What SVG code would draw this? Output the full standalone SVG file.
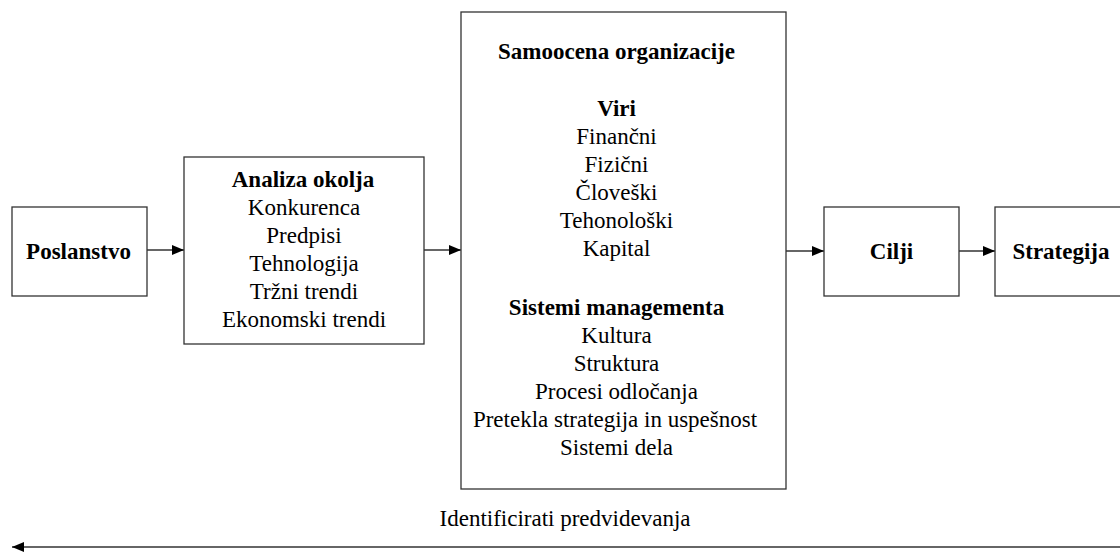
<svg xmlns="http://www.w3.org/2000/svg" width="1120" height="553" viewBox="0 0 1120 553">
<defs>
<style>
.box{fill:#fff;stroke:#333;stroke-width:1.3}
text{font-family:"Liberation Serif","Times New Roman",serif;font-size:23px;fill:#000;text-anchor:middle}
.b{font-weight:bold}
.c{stroke:#333;stroke-width:1.3;fill:none}
</style>
<marker id="ah" viewBox="0 0 12 10" refX="12" refY="5" markerWidth="12" markerHeight="10" markerUnits="userSpaceOnUse" orient="auto">
<path d="M0,0 L12,5 L0,10 Z" fill="#000"/>
</marker>
</defs>
<rect width="1120" height="553" fill="#fff"/>
<g id="connectors">
<line class="c" x1="147" y1="250" x2="184" y2="250" marker-end="url(#ah)"/>
<line class="c" x1="424" y1="250" x2="461" y2="250" marker-end="url(#ah)"/>
<line class="c" x1="786" y1="251" x2="824" y2="251" marker-end="url(#ah)"/>
<line class="c" x1="959" y1="251" x2="995" y2="251" marker-end="url(#ah)"/>
<line class="c" x1="1122" y1="547" x2="12" y2="547" marker-end="url(#ah)"/>
<text x="565" y="526">Identificirati predvidevanja</text>
</g>
<g id="poslanstvo">
<rect class="box" x="12" y="207" width="135" height="89"/>
<text class="b" x="78.5" y="259">Poslanstvo</text>
</g>
<g id="analiza">
<rect class="box" x="184" y="157" width="240" height="187"/>
<text class="b" x="303" y="187">Analiza okolja</text>
<text x="304" y="215">Konkurenca</text>
<text x="304" y="243">Predpisi</text>
<text x="304" y="271">Tehnologija</text>
<text x="304" y="299">Tržni trendi</text>
<text x="304" y="327">Ekonomski trendi</text>
</g>
<g id="samoocena">
<rect class="box" x="461" y="12" width="325" height="477"/>
<text class="b" x="616.5" y="59">Samoocena organizacije</text>
<text class="b" x="616.5" y="116">Viri</text>
<text x="616.5" y="144">Finančni</text>
<text x="616.5" y="172">Fizični</text>
<text x="616.5" y="200">Človeški</text>
<text x="616.5" y="228">Tehonološki</text>
<text x="616.5" y="256">Kapital</text>
<text class="b" x="616.5" y="315">Sistemi managementa</text>
<text x="616.5" y="343">Kultura</text>
<text x="616.5" y="371">Struktura</text>
<text x="616.5" y="399">Procesi odločanja</text>
<text x="615" y="427">Pretekla strategija in uspešnost</text>
<text x="616.5" y="455">Sistemi dela</text>
</g>
<g id="cilji">
<rect class="box" x="824" y="207" width="135" height="89"/>
<text class="b" x="891.5" y="259">Cilji</text>
</g>
<g id="strategija">
<rect class="box" x="995" y="207" width="135" height="89"/>
<text class="b" x="1061" y="259">Strategija</text>
</g>
</svg>
